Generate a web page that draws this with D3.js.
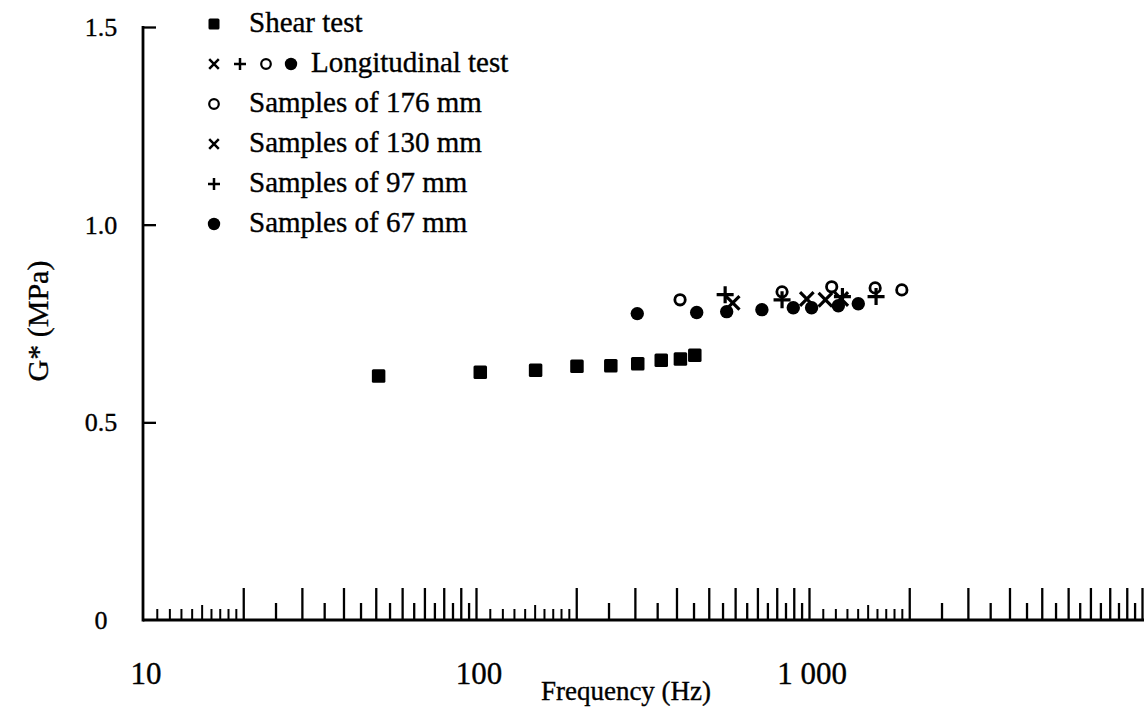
<!DOCTYPE html>
<html><head><meta charset="utf-8">
<script src="https://cdn.jsdelivr.net/npm/d3@7"></script>
<style>
html,body{margin:0;padding:0;background:#fff;}
text{font-family:"Liberation Serif","Times New Roman",serif;fill:#000;stroke:#000;stroke-width:0.35px;}
</style></head>
<body>
<svg id="chart" width="1144" height="709"></svg>
<script>
// ---- data ----
const shearFreq = [51, 103, 151, 201, 254, 306, 360, 411, 454];
const shearG    = [0.617, 0.627, 0.632, 0.642, 0.643, 0.648, 0.657, 0.660, 0.670];

const s176Freq = [410, 830, 1170, 1580, 1900];
const s176G    = [0.810, 0.830, 0.843, 0.840, 0.835];

const s130Freq = [590, 985, 1120, 1250];
const s130G    = [0.802, 0.812, 0.810, 0.812];

const s97Freq = [560, 830, 1260, 1590];
const s97G    = [0.823, 0.810, 0.818, 0.818];

const s67Freq = [305, 460, 566, 722, 897, 1018, 1225, 1406];
const s67G    = [0.775, 0.778, 0.780, 0.785, 0.790, 0.790, 0.795, 0.800];

const xTickLabels = [10, 100, 1000];
const yTickValues = [0, 0.5, 1.0, 1.5];
const legendLabels = ["Shear test", "Longitudinal test", "Samples of 176 mm",
                      "Samples of 130 mm", "Samples of 97 mm", "Samples of 67 mm"];

// ---- scales ----
const x = d3.scaleLog().domain([10, 10000]).range([143, 1142]);
const y = d3.scaleLinear().domain([0, 1.5]).range([620, 27]);

const svg = d3.select("#chart");

// log-paper style minor ticks
const decades = [10, 100, 1000];
const tallT = [], shortT = [], tinyT = [], midT = [];
decades.forEach(d => {
  for (let k = 11; k <= 19; k++) (k === 15 ? midT : tinyT).push(d * k / 10);
  for (let k = 2; k <= 10; k++) tallT.push(d * k);
  for (let k = 25; k <= 95; k += 10) shortT.push(d * k / 10);
});

function tickAxis(vals, len, w) {
  const g = svg.append("g").attr("transform", `translate(0,${y(0)})`)
    .call(d3.axisTop(x).tickValues(vals).tickSize(len).tickFormat(""));
  g.select(".domain").remove();
  g.selectAll("line").attr("stroke", "#000").attr("stroke-width", w);
}
tickAxis(tallT, 32, 2.3);
tickAxis(shortT, 17, 2.3);
tickAxis(tinyT, 11, 2);
tickAxis(midT, 15, 2);

// axis lines
svg.append("line").attr("x1", x(10)).attr("x2", 1144).attr("y1", y(0)).attr("y2", y(0))
  .attr("stroke", "#000").attr("stroke-width", 2.8);
svg.append("line").attr("x1", x(10)).attr("x2", x(10)).attr("y1", y(1.5) - 1).attr("y2", y(0) + 1.4)
  .attr("stroke", "#000").attr("stroke-width", 2.8);

// y ticks (inward)
const yAx = svg.append("g").attr("transform", `translate(${x(10)},0)`)
  .call(d3.axisRight(y).tickValues(yTickValues.filter(v => v > 0)).tickSize(13).tickFormat(""));
yAx.select(".domain").remove();
yAx.selectAll("line").attr("stroke", "#000").attr("stroke-width", 2.3);

// y tick labels
svg.append("g").selectAll("text").data(yTickValues).join("text")
  .attr("x", 101).attr("y", d => y(d)).attr("dy", "0.35em")
  .attr("text-anchor", "middle").attr("font-size", 26)
  .text(d => d === 0 ? "0" : d3.format(".1f")(d));

// x tick labels
svg.append("g").selectAll("text").data(xTickLabels).join("text")
  .attr("x", d => x(d) + 3).attr("y", 673).attr("dy", "0.35em")
  .attr("text-anchor", "middle").attr("font-size", 31)
  .text(d => d3.format(",")(d).replace(/,/g, " "));

// axis titles
svg.append("text").attr("x", 626).attr("y", 691).attr("dy", "0.35em")
  .attr("text-anchor", "middle").attr("font-size", 27).text("Frequency (Hz)");
svg.append("text").attr("transform", "translate(37,321) rotate(-90)").attr("dy", "0.35em")
  .attr("text-anchor", "middle").attr("font-size", 30).text("G* (MPa)");

// ---- marker helpers ----
function sq(g, cx, cy, s) {
  g.append("rect").attr("x", cx - s / 2).attr("y", cy - s / 2).attr("width", s).attr("height", s)
    .attr("rx", 1.5).attr("fill", "#000");
}
function dot(g, cx, cy, r) { g.append("circle").attr("cx", cx).attr("cy", cy).attr("r", r).attr("fill", "#000"); }
function ring(g, cx, cy, r, w) {
  g.append("circle").attr("cx", cx).attr("cy", cy).attr("r", r).attr("fill", "none")
    .attr("stroke", "#000").attr("stroke-width", w);
}
function times(g, cx, cy, h, w) {
  g.append("path").attr("d", `M${cx - h},${cy - h}L${cx + h},${cy + h}M${cx - h},${cy + h}L${cx + h},${cy - h}`)
    .attr("stroke", "#000").attr("stroke-width", w).attr("fill", "none");
}
function plus(g, cx, cy, h, w) {
  g.append("path").attr("d", `M${cx - h},${cy}L${cx + h},${cy}M${cx},${cy - h}L${cx},${cy + h}`)
    .attr("stroke", "#000").attr("stroke-width", w).attr("fill", "none");
}

// ---- data marks ----
const pts = svg.append("g");
shearFreq.forEach((f, i) => sq(pts, x(f), y(shearG[i]), 13.5));
s67Freq.forEach((f, i) => dot(pts, x(f), y(s67G[i]), 6.7));
s176Freq.forEach((f, i) => ring(pts, x(f), y(s176G[i]), 5.2, 2.8));
s130Freq.forEach((f, i) => times(pts, x(f), y(s130G[i]), 6.8, 3.2));
s97Freq.forEach((f, i) => plus(pts, x(f), y(s97G[i]), 8.5, 3.2));

// ---- legend ----
const lg = svg.append("g");
const rowY = i => 22 + 40 * i;
const tx = 249;
sq(lg, 214, rowY(0) + 2, 11);
times(lg, 214, rowY(1) + 2, 4.8, 2.5);
plus(lg, 240, rowY(1) + 2, 6, 2.5);
ring(lg, 266, rowY(1) + 2, 4.8, 2.2);
dot(lg, 291, rowY(1) + 2, 6.2);
ring(lg, 214, rowY(2) + 2, 4.8, 2.2);
times(lg, 214, rowY(3) + 2, 4.8, 2.5);
plus(lg, 214, rowY(4) + 2, 6, 2.5);
dot(lg, 214, rowY(5) + 2, 6.2);
legendLabels.forEach((t, i) => {
  lg.append("text").attr("x", i === 1 ? 311 : tx).attr("y", rowY(i)).attr("dy", "0.35em")
    .attr("font-size", 29).text(t);
});
</script>
</body></html>
